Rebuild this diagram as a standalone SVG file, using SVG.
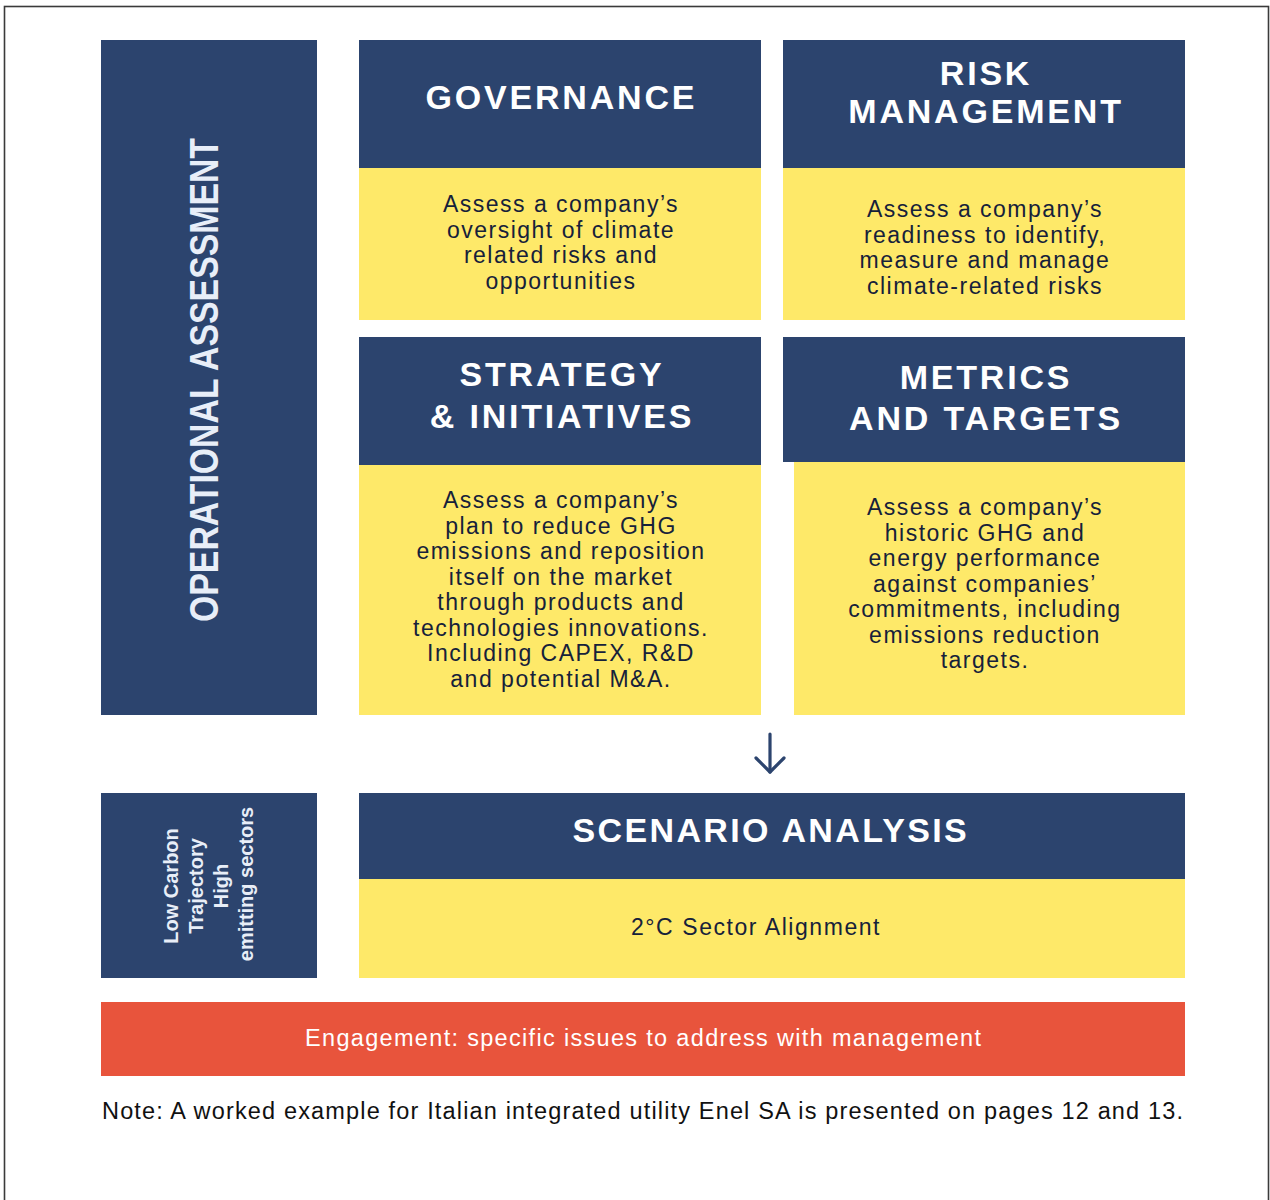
<svg xmlns="http://www.w3.org/2000/svg" width="1270" height="1200" viewBox="0 0 1270 1200">
  <style>
    .navy { fill: #2C446E; }
    .yellow { fill: #FEE969; }
    .head { font-family: "Liberation Sans", Arial, sans-serif; font-weight: bold; font-size: 34px; letter-spacing: 2.8px; fill: #FFFFFF; text-anchor: middle; }
    .body { font-family: "Liberation Sans", Arial, sans-serif; font-size: 23px; letter-spacing: 1.5px; fill: #16213A; text-anchor: middle; }
    .side { font-family: "Liberation Sans", Arial, sans-serif; font-weight: bold; fill: #E8EEF8; text-anchor: middle; }
    .light { font-family: "Liberation Sans", Arial, sans-serif; font-size: 23.5px; fill: #FFFFFF; text-anchor: middle; }
    .note { font-family: "Liberation Sans", Arial, sans-serif; font-size: 23.5px; fill: #111111; }
  </style>

  <!-- page frame -->
  <rect x="0" y="0" width="1270" height="1200" fill="#FFFFFF"/>
  <rect x="4.5" y="6.5" width="1264" height="1200" fill="none" stroke="#3a3a3a" stroke-width="1.6"/>

  <!-- operational assessment side bar -->
  <g id="operational-assessment">
    <rect class="navy" x="101" y="40" width="216" height="675"/>
    <text class="side" font-size="40" transform="translate(218 380) rotate(-90)" textLength="484" lengthAdjust="spacingAndGlyphs">OPERATIONAL ASSESSMENT</text>
  </g>

  <!-- governance -->
  <g id="governance">
    <rect class="navy" x="359" y="40" width="402" height="128"/>
    <rect class="yellow" x="359" y="168" width="402" height="152"/>
    <text class="head" x="561.4" y="109">GOVERNANCE</text>
    <g class="body">
      <text x="561" y="212">Assess a company’s</text>
      <text x="561" y="237.5">oversight of climate</text>
      <text x="561" y="263">related risks and</text>
      <text x="561" y="288.5">opportunities</text>
    </g>
  </g>

  <!-- risk management -->
  <g id="risk-management">
    <rect class="navy" x="783" y="40" width="402" height="128"/>
    <rect class="yellow" x="783" y="168" width="402" height="152"/>
    <g class="head">
      <text x="986" y="85">RISK</text>
      <text x="986" y="123">MANAGEMENT</text>
    </g>
    <g class="body">
      <text x="985" y="217">Assess a company’s</text>
      <text x="985" y="242.5">readiness to identify,</text>
      <text x="985" y="268">measure and manage</text>
      <text x="985" y="293.5">climate-related risks</text>
    </g>
  </g>

  <!-- strategy & initiatives -->
  <g id="strategy-initiatives">
    <rect class="navy" x="359" y="337" width="402" height="128"/>
    <rect class="yellow" x="359" y="465" width="402" height="250"/>
    <g class="head">
      <text x="562" y="386">STRATEGY</text>
      <text x="562" y="428">&amp; INITIATIVES</text>
    </g>
    <g class="body">
      <text x="561" y="508">Assess a company’s</text>
      <text x="561" y="533.5">plan to reduce GHG</text>
      <text x="561" y="559">emissions and reposition</text>
      <text x="561" y="584.5">itself on the market</text>
      <text x="561" y="610">through products and</text>
      <text x="561" y="635.5">technologies innovations.</text>
      <text x="561" y="661">Including CAPEX, R&amp;D</text>
      <text x="561" y="686.5">and potential M&amp;A.</text>
    </g>
  </g>

  <!-- metrics and targets -->
  <g id="metrics-targets">
    <rect class="navy" x="783" y="337" width="402" height="125"/>
    <rect class="yellow" x="794" y="462" width="391" height="253"/>
    <g class="head">
      <text x="986" y="389">METRICS</text>
      <text x="986" y="430">AND TARGETS</text>
    </g>
    <g class="body">
      <text x="985" y="515">Assess a company’s</text>
      <text x="985" y="540.5">historic GHG and</text>
      <text x="985" y="566">energy performance</text>
      <text x="985" y="591.5">against companies’</text>
      <text x="985" y="617">commitments, including</text>
      <text x="985" y="642.5">emissions reduction</text>
      <text x="985" y="668">targets.</text>
    </g>
  </g>

  <!-- connectors -->
  <g id="connectors" fill="none" stroke="#2C446E" stroke-width="3.2" stroke-linecap="round" stroke-linejoin="round">
    <path d="M770 734 V772"/>
    <path d="M756 758 L770 772 L784 758"/>
  </g>

  <!-- low carbon trajectory side box -->
  <g id="low-carbon">
    <rect class="navy" x="101" y="793" width="216" height="185"/>
    <g class="side" font-size="20">
      <text transform="translate(178 886) rotate(-90)">Low Carbon</text>
      <text transform="translate(203 886) rotate(-90)">Trajectory</text>
      <text transform="translate(228 886) rotate(-90)">High</text>
      <text transform="translate(253 884) rotate(-90)">emitting sectors</text>
    </g>
  </g>

  <!-- scenario analysis -->
  <g id="scenario-analysis">
    <rect class="navy" x="359" y="793" width="826" height="86"/>
    <rect class="yellow" x="359" y="879" width="826" height="99"/>
    <text class="head" x="771" y="842" textLength="397" lengthAdjust="spacing">SCENARIO ANALYSIS</text>
    <text class="body" x="756" y="935" letter-spacing="0.8" textLength="250" lengthAdjust="spacing">2°C Sector Alignment</text>
  </g>

  <!-- engagement bar -->
  <g id="engagement">
    <rect x="101" y="1002" width="1084" height="74" fill="#E8543C"/>
    <text class="light" x="643" y="1046" textLength="676" lengthAdjust="spacing">Engagement: specific issues to address with management</text>
  </g>

  <!-- footnote -->
  <text class="note" x="102" y="1119" textLength="1081" lengthAdjust="spacing">Note: A worked example for Italian integrated utility Enel SA is presented on pages 12 and 13.</text>
</svg>
